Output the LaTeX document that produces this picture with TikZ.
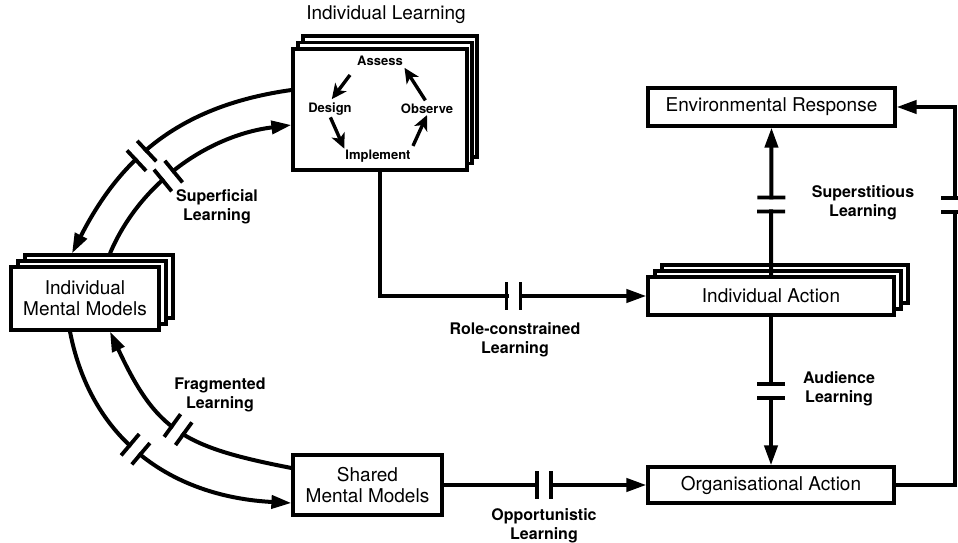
\documentclass[tikz,border=0pt]{standalone}
\usepackage{fontspec}
\setmainfont{TeX Gyre Heros}
\usetikzlibrary{arrows.meta,decorations.markings}
\newcommand{\brk}{%
  \fill[white] (-5pt,-5pt) rectangle (5pt,5pt);
  \draw[-,line width=3.8pt] (-7pt,-14pt) -- (-7pt,14pt) (7pt,-14pt) -- (7pt,14pt);}
\tikzset{
  box/.style={draw,line width=3.2pt,fill=white,inner sep=0pt,align=center,
    font=\fontsize{19}{21}\selectfont},
  lbl/.style={align=center,font=\bfseries\fontsize{16}{19}\selectfont},
  stage/.style={inner sep=1pt,font=\bfseries\fontsize{13}{15}\selectfont},
  link/.style={line width=4pt,-{Triangle[length=20pt,width=13pt]}},
  cyc/.style={line width=3.4pt,-{Stealth[length=15pt,width=14pt,inset=4pt]}},
  gap/.style={postaction={decorate,decoration={markings,mark=at position #1 with {\brk}}}}
}
\begin{document}
\begin{tikzpicture}[x=1pt,y=1pt]
     \useasboundingbox (0,0) rectangle (958,543);
     \node[box,minimum width=174pt,minimum height=121pt] (il3) at (390,446.5) {};
     \node[box,minimum width=174pt,minimum height=121pt] (il2) at (385,440) {};
     \node[box,minimum width=174pt,minimum height=121pt] (il)  at (380,433.5) {};
     \node[font=\fontsize{19}{21}\selectfont] (iltitle) at (386,528) {Individual Learning};
     \node[stage] (assess)    at (380,482) {Assess};
     \node[stage] (design)    at (330,434) {Design};
     \node[stage] (observe)   at (427,434) {Observe};
     \node[stage] (implement) at (378,387) {Implement};
     \draw[cyc,shorten <=10pt,shorten >=3pt] (assess.south west) -- (design.north);
     \draw[cyc,shorten <=1pt] (design.south) -- (implement.north west);
     \draw[cyc,shorten <=3pt] (implement.north east) -- (observe.south);
     \draw[cyc,shorten <=3pt,shorten >=1pt] (observe.north) -- (assess.south east);

     \node[box,minimum width=148pt,minimum height=63pt] (imm3) at (99,256.5) {};
     \node[box,minimum width=148pt,minimum height=63pt] (imm2) at (92,250.5) {};
     \node[box,minimum width=148pt,minimum height=63pt] (imm)  at (85,244.5) {Individual\\Mental Models};
     \node[box,minimum width=149pt,minimum height=60pt] (smm)  at (367.5,58) {Shared\\Mental Models};
     \node[box,minimum width=247pt,minimum height=38pt] (er)   at (771.5,436) {Environmental Response};
     \node[box,minimum width=246pt,minimum height=38pt] (ia3)  at (785,259) {};
     \node[box,minimum width=246pt,minimum height=38pt] (ia2)  at (778,253) {};
     \node[box,minimum width=246pt,minimum height=38pt] (ia)   at (771,247) {Individual Action};
     \node[box,minimum width=246pt,minimum height=36pt] (oa)   at (771,58) {Organisational Action};
     \coordinate (rt) at (955,0);

     \draw[link,gap=0.58] ([yshift=19.5pt]il.west) .. controls +(188:110) and +(63:110) .. ([xshift=-27pt]imm3.north);
     \draw[link,gap=0.42] ([xshift=11pt]imm3.north) .. controls +(67:80) and +(187:80) .. ([yshift=-15.5pt]il.west);
     \draw[link,gap=0.45] ([xshift=-15pt]imm.south) .. controls +(281:115) and +(177:115) .. ([yshift=-18pt]smm.west);
     \draw[link,gap=0.5] ([yshift=17pt]smm.west) .. controls +(169:110) and +(295:110) .. ([xshift=25pt]imm.south);
     \draw[link,gap=0.66] (il.south) |- (ia.west);
     \draw[link,gap=0.495] (smm.east) -- (oa.west);
     \draw[link,gap=0.48] (ia.north) -- (er.south);
     \draw[link,gap=0.5] (ia.south) -- (oa.north);
     \draw[link,gap=0.685] (oa.east) -- (oa.east -| rt) |- (er.east);

     \node[lbl] (sup)  at (217,336) {Superficial\\Learning};
     \node[lbl] (frag) at (220,148) {Fragmented\\Learning};
     \node[lbl] (role) at (515,203) {Role-constrained\\Learning};
     \node[lbl] (opp)  at (544,17)  {Opportunistic\\Learning};
     \node[lbl] (aud)  at (839,154) {Audience\\Learning};
     \node[lbl] (sst)  at (863,340) {Superstitious\\Learning};
\end{tikzpicture}
\end{document}
